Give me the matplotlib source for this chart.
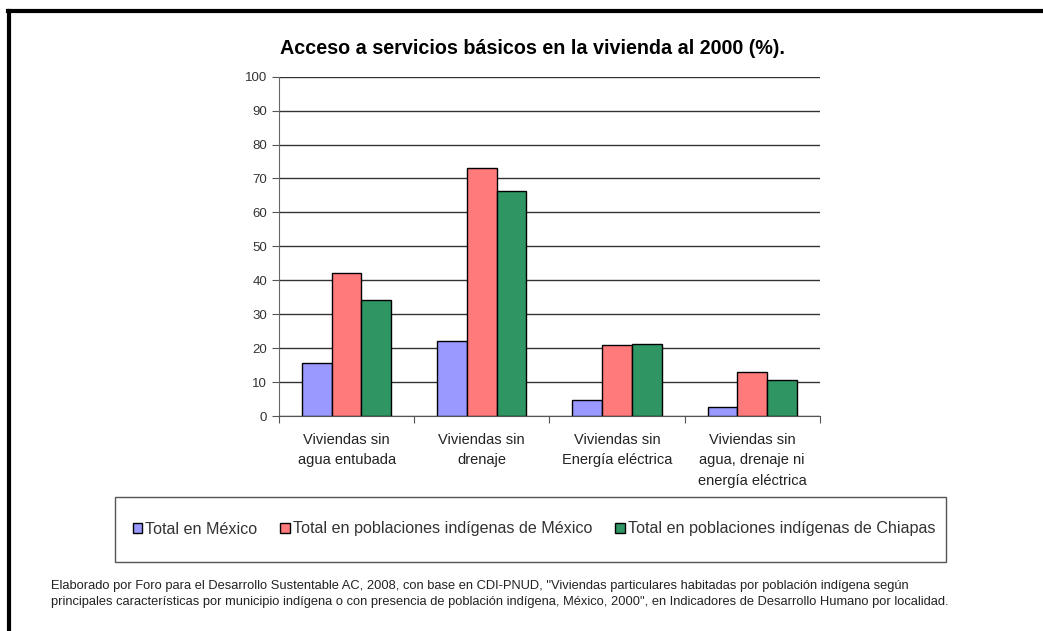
import matplotlib
matplotlib.use("Agg")
import matplotlib.pyplot as plt
from matplotlib.patches import Rectangle
from matplotlib.lines import Line2D
import numpy as np

plt.rcParams['font.family'] = ['Liberation Sans', 'DejaVu Sans']

categorias = ['Viviendas sin\nagua entubada', 'Viviendas sin\ndrenaje',
              'Viviendas sin\nEnergía eléctrica', 'Viviendas sin\nagua, drenaje ni\nenergía eléctrica']
series = ['Total en México', 'Total en poblaciones indígenas de México',
          'Total en poblaciones indígenas de Chiapas']
mexico = [15.7, 22.0, 4.8, 2.6]
indigenas_mx = [42.2, 73.0, 20.8, 13.0]
indigenas_chis = [34.3, 66.3, 21.3, 10.6]
colores = ['#9999ff', '#ff7a7a', '#2f9563']

fig = plt.figure(figsize=(10.43, 6.31), dpi=100)
ax = fig.add_axes([0.2675, 0.3407, 0.5185, 0.5378])

x = np.arange(len(categorias))
w = 0.22
for i, vals in enumerate([mexico, indigenas_mx, indigenas_chis]):
    ax.bar(x + (i - 1) * w, vals, w, color=colores[i], edgecolor='black',
           linewidth=1, label=series[i], zorder=3)

ax.set_xlim(-0.5, 3.5)
ax.set_ylim(0, 100)
ax.set_yticks(range(0, 101, 10))
ax.yaxis.grid(True, color='#333333', linewidth=1, zorder=0)
ax.set_xticks(np.arange(-0.5, 4.0, 1.0))
ax.set_xticklabels([])
ax.set_xticks(x, minor=True)
ax.set_xticklabels(categorias, minor=True, fontsize=10.5, color='#222222', linespacing=1.6)
ax.tick_params(axis='x', which='major', length=5, direction='out', color='#555555')
ax.tick_params(axis='x', which='minor', length=0, pad=12)
ax.tick_params(axis='y', length=5, color='#555555', labelsize=9.5, labelcolor='#333333')
for s in ['top', 'right']:
    ax.spines[s].set_visible(False)
ax.spines['left'].set_color('#666666')
ax.spines['bottom'].set_color('#555555')

fig.text(532 / 1043, 1 - 48 / 631, 'Acceso a servicios básicos en la vivienda al 2000 (%).',
         ha='center', va='center', fontsize=14.2, fontweight='bold')

# marco exterior (solo arriba e izquierda)
fig.add_artist(Line2D([0.009, 0.009], [0.0, 0.983], color='black', linewidth=3,
                      transform=fig.transFigure))
fig.add_artist(Line2D([0.008, 1.0], [0.983, 0.983], color='black', linewidth=3,
                      transform=fig.transFigure))

# caja de leyenda
fig.add_artist(Rectangle((115 / 1043, 1 - 562 / 631), (946 - 115) / 1043, 65 / 631,
                         transform=fig.transFigure, fill=False, edgecolor='#555555',
                         linewidth=1))
handles, labels = ax.get_legend_handles_labels()
leg = fig.legend(handles, labels, loc='center', bbox_to_anchor=(534 / 1043, 1 - 529 / 631),
                 ncol=3, frameon=False, fontsize=11.6, handlelength=0.6, handleheight=0.6,
                 handletextpad=0.2, columnspacing=1.4, borderpad=0, borderaxespad=0)
for t in leg.get_texts():
    t.set_color('#333333')

nota = ('Elaborado por Foro para el Desarrollo Sustentable AC, 2008, con base en CDI-PNUD, '
        '"Viviendas particulares habitadas por población indígena según\n'
        'principales características por municipio indígena o con presencia de población '
        'indígena, México, 2000", en Indicadores de Desarrollo Humano por localidad.')
fig.text(51 / 1043, 1 - 594 / 631, nota, ha='left', va='center', fontsize=9.3,
         color='#222222', linespacing=1.5)

fig.savefig('out.png', dpi=100)
